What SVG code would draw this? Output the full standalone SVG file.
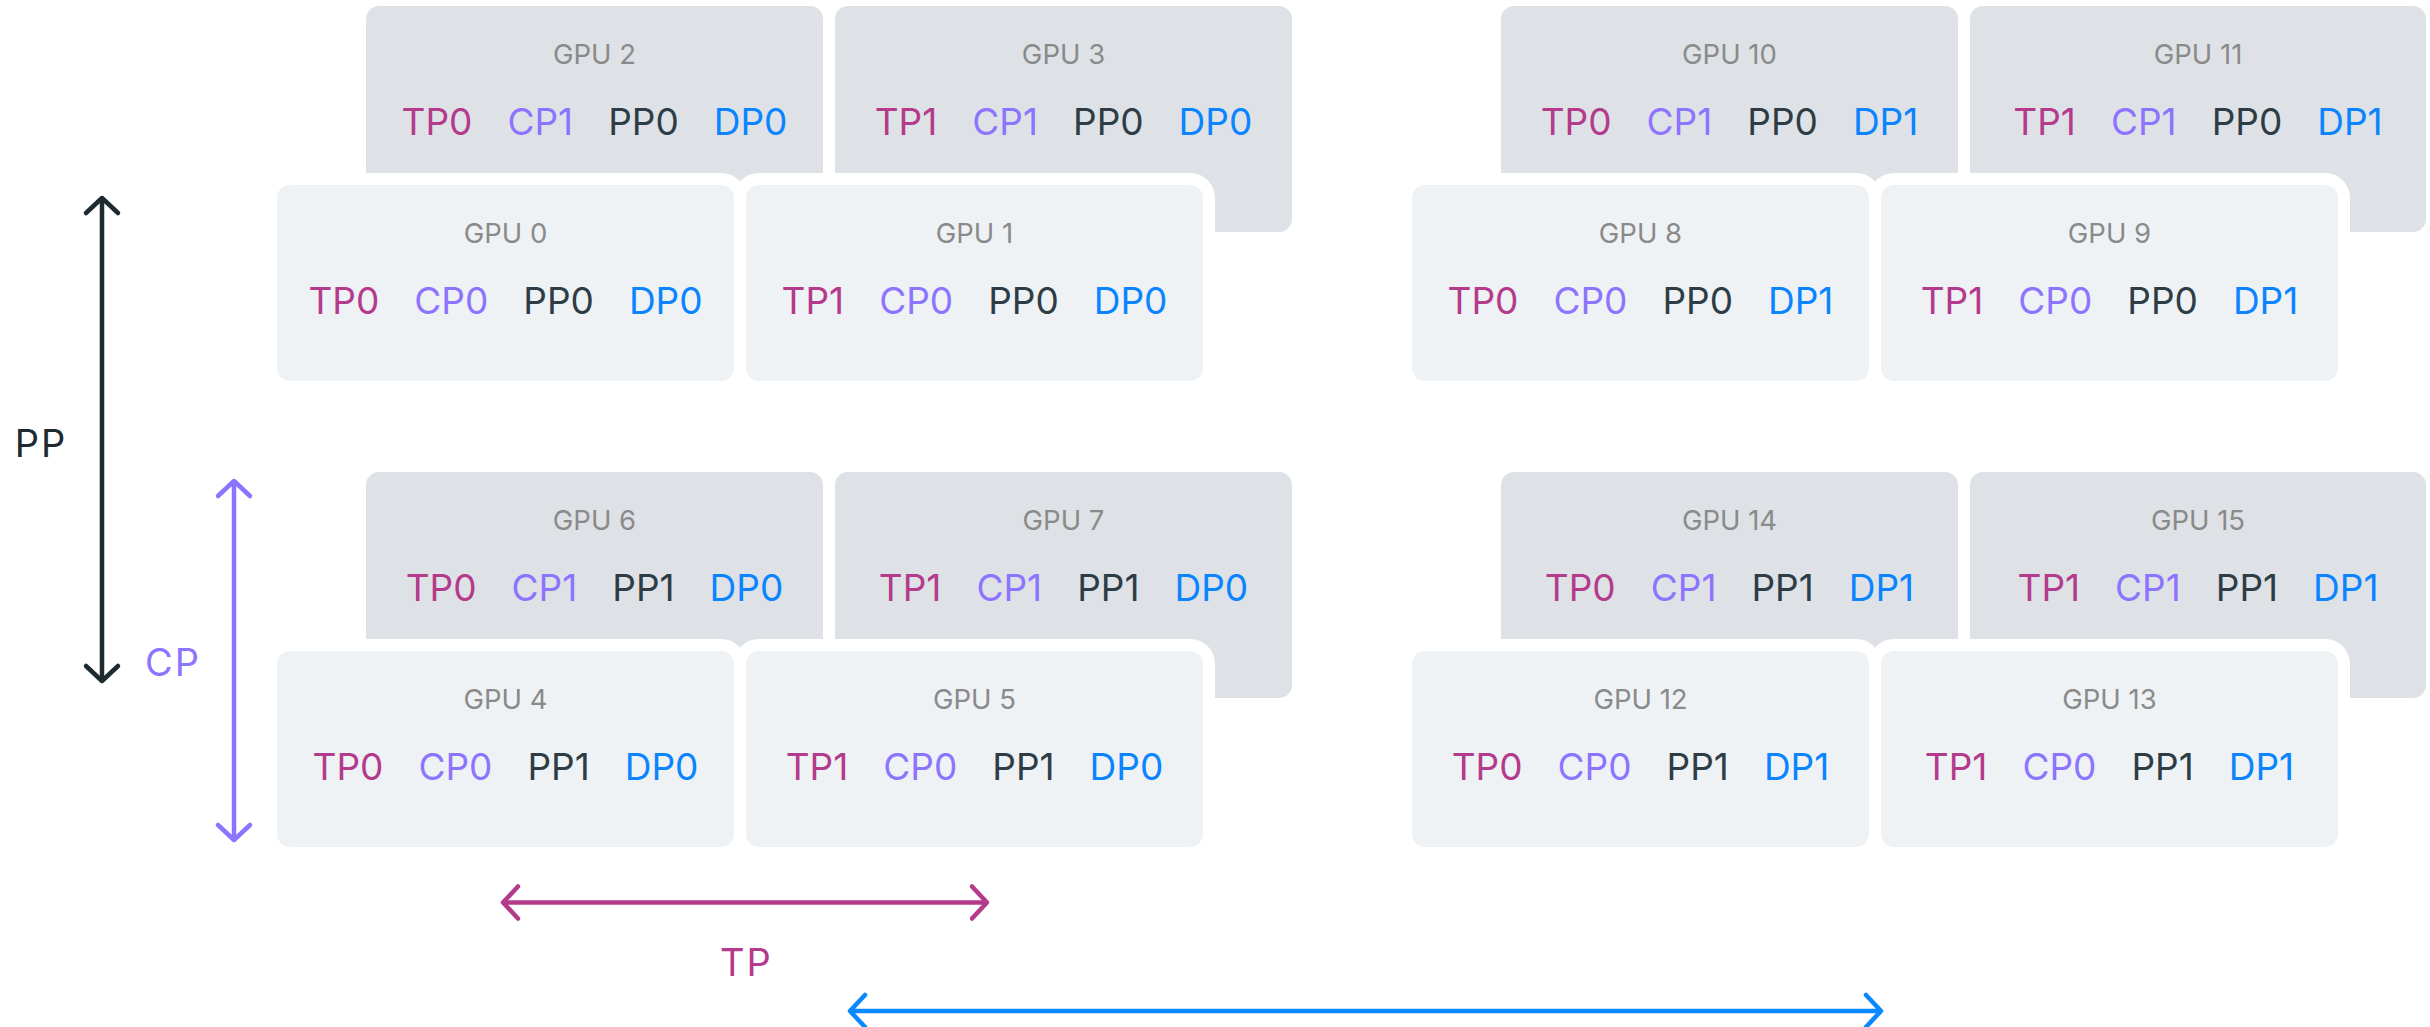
<svg xmlns="http://www.w3.org/2000/svg" width="2430" height="1027" viewBox="0 0 2430 1027">
<style>
.bg{fill:#ffffff}
.back{fill:#DEE2E6}
.front{fill:#EFF2F5;stroke:#ffffff;stroke-width:24;paint-order:stroke}
.gpu{font-family:Inter,"Noto Sans",sans-serif;font-size:27.5px;fill:#8A8A8A;text-anchor:middle}
.tok{font-family:Inter,"Noto Sans",sans-serif;font-size:37px;text-anchor:middle}
.tp{fill:#B43A8B}
.cp{fill:#8C74FF}
.pp{fill:#2E3D45}
.dp{fill:#0A84FF}
.axl{font-family:Inter,"Noto Sans",sans-serif;font-size:38px;letter-spacing:2px;text-anchor:middle}
.arr{fill:none;stroke-width:4.5}
</style>
<defs>
<marker id="mPP" markerUnits="userSpaceOnUse" markerWidth="40" markerHeight="40" refX="0" refY="0" viewBox="-20 -20 40 40" orient="auto-start-reverse" overflow="visible"><path d="M-15,-16 L0,0 L-15,16" fill="none" stroke="#1E2A31" stroke-width="4.5" stroke-linecap="round" stroke-linejoin="round"/></marker>
<marker id="mCP" markerUnits="userSpaceOnUse" markerWidth="40" markerHeight="40" refX="0" refY="0" viewBox="-20 -20 40 40" orient="auto-start-reverse" overflow="visible"><path d="M-15,-16 L0,0 L-15,16" fill="none" stroke="#8C74FF" stroke-width="4.5" stroke-linecap="round" stroke-linejoin="round"/></marker>
<marker id="mTP" markerUnits="userSpaceOnUse" markerWidth="40" markerHeight="40" refX="0" refY="0" viewBox="-20 -20 40 40" orient="auto-start-reverse" overflow="visible"><path d="M-15,-16 L0,0 L-15,16" fill="none" stroke="#B43A8B" stroke-width="4.5" stroke-linecap="round" stroke-linejoin="round"/></marker>
<marker id="mDP" markerUnits="userSpaceOnUse" markerWidth="40" markerHeight="40" refX="0" refY="0" viewBox="-20 -20 40 40" orient="auto-start-reverse" overflow="visible"><path d="M-15,-16 L0,0 L-15,16" fill="none" stroke="#0A88FF" stroke-width="4.5" stroke-linecap="round" stroke-linejoin="round"/></marker>
</defs>
<rect class="bg" x="0" y="0" width="2430" height="1027"/>

<!-- back row, top -->
<g id="gpu2"><rect class="back" x="366" y="6" width="457" height="226" rx="13"/><text class="gpu" x="594.5" y="63.5">GPU 2</text><text class="tok" x="594.5" y="135"><tspan class="tp">TP0</tspan><tspan class="cp" dx="35">CP1</tspan><tspan class="pp" dx="35">PP0</tspan><tspan class="dp" dx="35">DP0</tspan></text></g>
<g id="gpu3"><rect class="back" x="835" y="6" width="457" height="226" rx="13"/><text class="gpu" x="1063.5" y="63.5">GPU 3</text><text class="tok" x="1063.5" y="135"><tspan class="tp">TP1</tspan><tspan class="cp" dx="35">CP1</tspan><tspan class="pp" dx="35">PP0</tspan><tspan class="dp" dx="35">DP0</tspan></text></g>
<g id="gpu10"><rect class="back" x="1501" y="6" width="457" height="226" rx="13"/><text class="gpu" x="1729.5" y="63.5">GPU 10</text><text class="tok" x="1729.5" y="135"><tspan class="tp">TP0</tspan><tspan class="cp" dx="35">CP1</tspan><tspan class="pp" dx="35">PP0</tspan><tspan class="dp" dx="35">DP1</tspan></text></g>
<g id="gpu11"><rect class="back" x="1970" y="6" width="456" height="226" rx="13"/><text class="gpu" x="2198" y="63.5">GPU 11</text><text class="tok" x="2198" y="135"><tspan class="tp">TP1</tspan><tspan class="cp" dx="35">CP1</tspan><tspan class="pp" dx="35">PP0</tspan><tspan class="dp" dx="35">DP1</tspan></text></g>

<!-- front row, top -->
<g id="gpu0"><rect class="front" x="277" y="185" width="457" height="196" rx="13"/><text class="gpu" x="505.5" y="242.5">GPU 0</text><text class="tok" x="505.5" y="314"><tspan class="tp">TP0</tspan><tspan class="cp" dx="35">CP0</tspan><tspan class="pp" dx="35">PP0</tspan><tspan class="dp" dx="35">DP0</tspan></text></g>
<g id="gpu1"><rect class="front" x="746" y="185" width="457" height="196" rx="13"/><text class="gpu" x="974.5" y="242.5">GPU 1</text><text class="tok" x="974.5" y="314"><tspan class="tp">TP1</tspan><tspan class="cp" dx="35">CP0</tspan><tspan class="pp" dx="35">PP0</tspan><tspan class="dp" dx="35">DP0</tspan></text></g>
<g id="gpu8"><rect class="front" x="1412" y="185" width="457" height="196" rx="13"/><text class="gpu" x="1640.5" y="242.5">GPU 8</text><text class="tok" x="1640.5" y="314"><tspan class="tp">TP0</tspan><tspan class="cp" dx="35">CP0</tspan><tspan class="pp" dx="35">PP0</tspan><tspan class="dp" dx="35">DP1</tspan></text></g>
<g id="gpu9"><rect class="front" x="1881" y="185" width="457" height="196" rx="13"/><text class="gpu" x="2109.5" y="242.5">GPU 9</text><text class="tok" x="2109.5" y="314"><tspan class="tp">TP1</tspan><tspan class="cp" dx="35">CP0</tspan><tspan class="pp" dx="35">PP0</tspan><tspan class="dp" dx="35">DP1</tspan></text></g>

<!-- back row, bottom -->
<g id="gpu6"><rect class="back" x="366" y="472" width="457" height="226" rx="13"/><text class="gpu" x="594.5" y="529.5">GPU 6</text><text class="tok" x="594.5" y="601"><tspan class="tp">TP0</tspan><tspan class="cp" dx="35">CP1</tspan><tspan class="pp" dx="35">PP1</tspan><tspan class="dp" dx="35">DP0</tspan></text></g>
<g id="gpu7"><rect class="back" x="835" y="472" width="457" height="226" rx="13"/><text class="gpu" x="1063.5" y="529.5">GPU 7</text><text class="tok" x="1063.5" y="601"><tspan class="tp">TP1</tspan><tspan class="cp" dx="35">CP1</tspan><tspan class="pp" dx="35">PP1</tspan><tspan class="dp" dx="35">DP0</tspan></text></g>
<g id="gpu14"><rect class="back" x="1501" y="472" width="457" height="226" rx="13"/><text class="gpu" x="1729.5" y="529.5">GPU 14</text><text class="tok" x="1729.5" y="601"><tspan class="tp">TP0</tspan><tspan class="cp" dx="35">CP1</tspan><tspan class="pp" dx="35">PP1</tspan><tspan class="dp" dx="35">DP1</tspan></text></g>
<g id="gpu15"><rect class="back" x="1970" y="472" width="456" height="226" rx="13"/><text class="gpu" x="2198" y="529.5">GPU 15</text><text class="tok" x="2198" y="601"><tspan class="tp">TP1</tspan><tspan class="cp" dx="35">CP1</tspan><tspan class="pp" dx="35">PP1</tspan><tspan class="dp" dx="35">DP1</tspan></text></g>

<!-- front row, bottom -->
<g id="gpu4"><rect class="front" x="277" y="651" width="457" height="196" rx="13"/><text class="gpu" x="505.5" y="708.5">GPU 4</text><text class="tok" x="505.5" y="780"><tspan class="tp">TP0</tspan><tspan class="cp" dx="35">CP0</tspan><tspan class="pp" dx="35">PP1</tspan><tspan class="dp" dx="35">DP0</tspan></text></g>
<g id="gpu5"><rect class="front" x="746" y="651" width="457" height="196" rx="13"/><text class="gpu" x="974.5" y="708.5">GPU 5</text><text class="tok" x="974.5" y="780"><tspan class="tp">TP1</tspan><tspan class="cp" dx="35">CP0</tspan><tspan class="pp" dx="35">PP1</tspan><tspan class="dp" dx="35">DP0</tspan></text></g>
<g id="gpu12"><rect class="front" x="1412" y="651" width="457" height="196" rx="13"/><text class="gpu" x="1640.5" y="708.5">GPU 12</text><text class="tok" x="1640.5" y="780"><tspan class="tp">TP0</tspan><tspan class="cp" dx="35">CP0</tspan><tspan class="pp" dx="35">PP1</tspan><tspan class="dp" dx="35">DP1</tspan></text></g>
<g id="gpu13"><rect class="front" x="1881" y="651" width="457" height="196" rx="13"/><text class="gpu" x="2109.5" y="708.5">GPU 13</text><text class="tok" x="2109.5" y="780"><tspan class="tp">TP1</tspan><tspan class="cp" dx="35">CP0</tspan><tspan class="pp" dx="35">PP1</tspan><tspan class="dp" dx="35">DP1</tspan></text></g>

<!-- connectors -->
<g id="connectors">
<line class="arr" x1="102" y1="198" x2="102" y2="681" stroke="#1E2A31" marker-start="url(#mPP)" marker-end="url(#mPP)"/>
<line class="arr" x1="234" y1="481" x2="234" y2="840" stroke="#8C74FF" marker-start="url(#mCP)" marker-end="url(#mCP)"/>
<line class="arr" x1="503" y1="902.5" x2="987" y2="902.5" stroke="#B43A8B" marker-start="url(#mTP)" marker-end="url(#mTP)"/>
<line class="arr" x1="850" y1="1011" x2="1881" y2="1011" stroke="#0A88FF" marker-start="url(#mDP)" marker-end="url(#mDP)"/>
</g>
<g id="labels">
<text class="axl" x="41" y="457" fill="#1E2A31">PP</text>
<text class="axl" x="173" y="676" fill="#8C74FF">CP</text>
<text class="axl" x="746.5" y="976" fill="#B43A8B">TP</text>
</g>
</svg>
